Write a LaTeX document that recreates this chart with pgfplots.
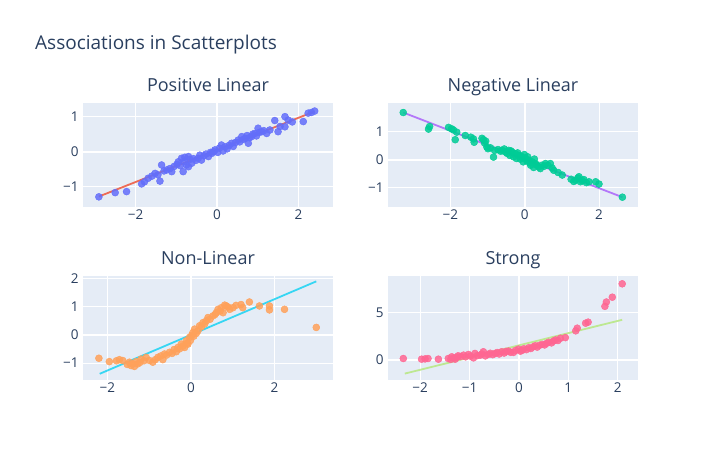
\documentclass[border=0pt]{standalone}
\usepackage{fontspec}
\setmainfont{Open Sans}
\usepackage{pgfplots}
\pgfplotsset{compat=1.18}

\definecolor{plotbg}{HTML}{E5ECF6}
\definecolor{txt}{HTML}{2A3F5F}
\definecolor{cblue}{HTML}{636EFA}
\definecolor{cred}{HTML}{EF553B}
\definecolor{cteal}{HTML}{00CC96}
\definecolor{cpurple}{HTML}{AB63FA}
\definecolor{corange}{HTML}{FFA15A}
\definecolor{ccyan}{HTML}{19D3F3}
\definecolor{cpink}{HTML}{FF6692}
\definecolor{clime}{HTML}{B6E880}

\pgfplotsset{
  facet/.style={
    scale only axis, width=250bp, height=104bp,
    axis background/.style={fill=plotbg},
    axis line style={draw=none},
    tick style={draw=none},
    grid=major,
    major grid style={white, line width=1bp},
    ticklabel style={font=\fontsize{13.5bp}{16bp}\selectfont, text=txt},
    xticklabel style={yshift=1bp},
    yticklabel style={xshift=-1bp},
    extra x tick style={major grid style={white, line width=2bp}},
    extra y tick style={major grid style={white, line width=2bp}},
    extra x ticks={0}, extra x tick labels={0},
    extra y ticks={0}, extra y tick labels={0},
    title style={at={(0.5,1)}, anchor=base, yshift=6bp,
      font=\fontsize{18bp}{21bp}\selectfont, text=txt},
  },
  pts/.style={only marks, mark=*, mark size=3.5bp, color=#1,
    mark options={draw=none, fill=#1, fill opacity=0.85}},
  fit/.style={no marks, draw=#1, line width=1.8bp, draw opacity=0.85},
}

\begin{document}
\begin{tikzpicture}
\path[use as bounding box] (0,0) rectangle (720bp,462bp);
\node[anchor=base west, font=\fontsize{19bp}{22bp}\selectfont, text=txt, inner sep=0pt]
  at (35bp,412bp) {Associations in Scatterplots};

% Positive Linear
\begin{axis}[facet, at={(83bp,255bp)}, anchor=south west,
  title={Positive Linear},
  xmin=-3.29, xmax=2.85, ymin=-1.58, ymax=1.39,
  xtick={-2,2}, xticklabels={−2,2},
  ytick={-1,1}, yticklabels={−1,1}]
\addplot[pts=cblue] table {
-2.90 -1.29
-2.50 -1.17
-2.22 -1.14
-1.85 -0.92
-1.78 -0.86
-1.69 -0.76
-1.60 -0.70
-1.52 -0.62
-1.45 -0.66
-1.40 -0.84
-1.36 -0.38
-1.30 -0.55
-1.23 -0.52
-1.15 -0.48
-1.11 -0.57
-1.05 -0.42
-0.98 -0.36
-0.95 -0.29
-0.90 -0.40
-0.87 -0.19
-0.83 -0.57
-0.80 -0.28
-0.79 -0.16
-0.75 -0.38
-0.70 -0.14
-0.70 -0.43
-0.66 -0.22
-0.62 -0.33
-0.58 -0.20
-0.52 -0.25
-0.46 -0.19
-0.42 -0.10
-0.38 -0.24
-0.32 -0.12
-0.27 -0.07
-0.21 -0.14
-0.16 -0.02
-0.13 -0.05
-0.08 0.00
-0.05 0.05
0.02 -0.02
0.06 0.10
0.11 0.19
0.15 0.02
0.20 0.14
0.25 0.08
0.30 0.18
0.36 0.24
0.40 0.15
0.45 0.26
0.52 0.33
0.56 0.28
0.61 0.43
0.65 0.35
0.70 0.38
0.74 0.46
0.77 0.24
0.80 0.40
0.85 0.43
0.88 0.50
0.93 0.52
0.97 0.45
1.01 0.67
1.04 0.55
1.10 0.57
1.15 0.60
1.22 0.52
1.30 0.62
1.42 0.89
1.50 0.57
1.55 0.72
1.67 1.00
1.67 0.71
1.75 0.90
1.85 0.85
2.12 0.86
2.24 1.10
2.32 1.12
2.40 1.16
};
\addplot[fit=cred] coordinates {(-2.90,-1.28) (2.40,1.15)};
\end{axis}

% Negative Linear
\begin{axis}[facet, at={(388bp,255bp)}, anchor=south west,
  title={Negative Linear},
  xmin=-3.68, xmax=3.05, ymin=-1.69, ymax=2.02,
  xtick={-2,2}, xticklabels={−2,2},
  ytick={-1,1}, yticklabels={−1,1}]
\addplot[pts=cteal] table {
-3.27 1.68
-2.59 1.09
-2.56 1.18
-2.05 1.15
-1.97 1.10
-1.92 1.06
-1.87 0.71
-1.83 0.98
-1.60 0.86
-1.45 0.80
-1.38 0.74
-1.36 0.62
-1.15 0.76
-1.11 0.71
-1.08 0.59
-1.05 0.66
-1.02 0.45
-0.99 0.39
-0.92 0.42
-0.84 0.09
-0.81 0.33
-0.72 0.36
-0.65 0.30
-0.61 0.33
-0.55 0.38
-0.52 0.27
-0.47 0.22
-0.43 0.33
-0.40 0.15
-0.37 0.31
-0.34 0.27
-0.30 0.10
-0.25 0.21
-0.22 0.04
-0.19 0.24
-0.16 0.15
-0.12 0.02
-0.10 0.12
-0.07 0.09
-0.04 -0.08
-0.01 0.18
0.02 0.04
0.06 -0.05
0.08 0.10
0.11 -0.02
0.14 -0.12
0.16 -0.20
0.20 -0.08
0.24 -0.28
0.26 0.02
0.29 -0.14
0.33 -0.20
0.38 -0.26
0.42 -0.32
0.47 -0.20
0.52 -0.24
0.56 -0.14
0.62 -0.20
0.69 -0.14
0.74 -0.30
0.78 -0.38
0.90 -0.46
1.01 -0.55
1.25 -0.70
1.32 -0.78
1.37 -0.73
1.43 -0.66
1.46 -0.61
1.50 -0.79
1.55 -0.75
1.59 -0.71
1.66 -0.82
1.73 -0.79
1.91 -0.79
2.00 -0.87
2.63 -1.34
};
\addplot[fit=cpurple] coordinates {(-3.27,1.68) (2.63,-1.34)};
\end{axis}

% Non-Linear
\begin{axis}[facet, at={(83bp,82bp)}, anchor=south west,
  title={Non-Linear},
  xmin=-2.58, xmax=3.4, ymin=-1.6, ymax=2.08,
  xtick={-2,2}, xticklabels={−2,2},
  ytick={-1,1,2}, yticklabels={−1,1,2}]
\addplot[pts=corange] table {
-2.20 -0.83
-1.95 -0.95
-1.78 -0.92
-1.71 -0.88
-1.63 -0.91
-1.52 -1.05
-1.47 -0.97
-1.43 -1.09
-1.39 -1.03
-1.35 -1.12
-1.31 -0.95
-1.27 -1.03
-1.22 -0.98
-1.19 -0.86
-1.12 -0.92
-1.07 -0.80
-0.99 -0.91
-0.91 -0.97
-0.85 -0.88
-0.79 -0.80
-0.72 -0.75
-0.67 -0.88
-0.63 -0.68
-0.58 -0.72
-0.51 -0.62
-0.45 -0.66
-0.40 -0.52
-0.35 -0.60
-0.31 -0.45
-0.27 -0.50
-0.23 -0.33
-0.19 -0.40
-0.15 -0.45
-0.11 -0.21
-0.09 -0.30
-0.07 -0.33
-0.03 -0.09
-0.01 -0.20
0.02 -0.02
0.05 0.08
0.07 -0.05
0.09 0.20
0.13 0.05
0.17 0.14
0.21 0.32
0.25 0.28
0.29 0.43
0.33 0.38
0.37 0.49
0.41 0.61
0.46 0.55
0.53 0.67
0.58 0.72
0.61 0.78
0.65 0.90
0.70 0.84
0.73 0.96
0.77 0.78
0.81 1.05
0.85 1.02
0.89 0.98
0.93 0.90
1.01 0.96
1.08 1.04
1.20 1.07
1.24 0.96
1.40 1.16
1.64 1.02
1.88 1.02
1.88 0.88
2.24 0.90
3.00 0.26
};
\addplot[fit=ccyan] coordinates {(-2.18,-1.38) (3.00,1.89)};
\end{axis}

% Strong
\begin{axis}[facet, at={(388bp,82bp)}, anchor=south west,
  title={Strong},
  xmin=-2.65, xmax=2.41, ymin=-2.14, ymax=8.9,
  xtick={-2,-1,1,2}, xticklabels={−2,−1,1,2},
  ytick={5}, yticklabels={5}]
\addplot[pts=cpink] table {
-2.34 0.14
-1.97 0.07
-1.90 0.10
-1.84 0.14
-1.63 0.07
-1.43 0.14
-1.38 0.05
-1.36 0.32
-1.32 0.20
-1.29 0.07
-1.25 0.28
-1.23 0.43
-1.18 0.35
-1.12 0.50
-1.08 0.32
-1.02 0.57
-0.98 0.40
-0.92 0.21
-0.89 0.68
-0.84 0.45
-0.78 0.50
-0.75 0.62
-0.72 0.86
-0.68 0.42
-0.62 0.57
-0.58 0.70
-0.53 0.55
-0.48 0.68
-0.44 0.78
-0.40 0.62
-0.35 0.86
-0.30 0.72
-0.26 0.90
-0.21 0.93
-0.17 0.80
-0.11 0.79
-0.07 1.00
-0.01 1.14
0.03 0.92
0.06 1.00
0.10 1.18
0.15 1.08
0.20 1.29
0.24 1.20
0.29 1.38
0.33 1.50
0.37 1.35
0.42 1.55
0.47 1.64
0.52 1.58
0.56 1.75
0.60 1.86
0.66 1.80
0.70 2.00
0.74 2.11
0.79 2.05
0.84 2.29
0.94 2.36
1.15 3.08
1.18 3.36
1.35 3.89
1.40 4.00
1.74 5.68
1.77 6.14
1.89 6.65
2.09 8.07
};
\addplot[fit=clime] coordinates {(-2.31,-1.46) (2.09,4.25)};
\end{axis}
\end{tikzpicture}
\end{document}
